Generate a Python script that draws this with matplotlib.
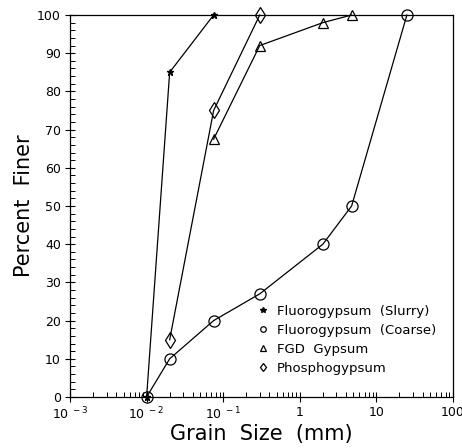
import matplotlib
matplotlib.use("Agg")
import matplotlib.pyplot as plt
from matplotlib.lines import Line2D
from matplotlib.ticker import LogLocator, NullFormatter, MultipleLocator

# Data (grain size in mm, percent finer)
slurry_x = [0.01, 0.02, 0.075]
slurry_y = [0, 85, 100]
coarse_x = [0.01, 0.02, 0.075, 0.3, 2.0, 4.75, 25]
coarse_y = [0, 10, 20, 27, 40, 50, 100]
fgd_x = [0.075, 0.3, 2.0, 4.75]
fgd_y = [67.5, 92, 98, 100]
phos_x = [0.02, 0.075, 0.3]
phos_y = [15, 75, 100]

xtick_vals = [1e-3, 1e-2, 1e-1, 1, 10, 100]
xtick_labels = [r"10$^{\ -3}$", r"10$^{\ -2}$", r"10$^{\ -1}$", "1", "10", "100"]
ytick_vals = list(range(0, 101, 10))

legend_labels = ["Fluorogypsum  (Slurry)", "Fluorogypsum  (Coarse)",
                 "FGD  Gypsum", "Phosphogypsum"]

plt.rcParams['font.family'] = ['DejaVu Sans']

fig = plt.figure(figsize=(4.62, 4.48), dpi=100)
ax = fig.add_axes([70/462, 1-397/448, (453-70)/462, (397-15)/448])

lw = 0.9
ax.plot(slurry_x, slurry_y, '-', color='black', lw=lw, marker='*', ms=5,
        mfc='black', mec='black', clip_on=False)
ax.plot(coarse_x, coarse_y, '-', color='black', lw=lw, marker='o', ms=8,
        mfc='none', mec='black', mew=0.9, clip_on=False)
ax.plot(fgd_x, fgd_y, '-', color='black', lw=lw, marker='^', ms=7,
        mfc='none', mec='black', mew=0.9, clip_on=False)
ax.plot(phos_x, phos_y, '-', color='black', lw=lw, marker='d', ms=8,
        mfc='none', mec='black', mew=0.9, clip_on=False)

ax.set_xscale('log')
ax.set_xlim(1e-3, 100)
ax.set_ylim(0, 100)

ax.set_xticks(xtick_vals)
ax.set_xticklabels(xtick_labels, fontsize=9)
ax.xaxis.set_minor_locator(LogLocator(base=10, subs=range(2, 10), numticks=50))
ax.xaxis.set_minor_formatter(NullFormatter())
ax.set_yticks(ytick_vals)
ax.set_yticklabels([str(v) for v in ytick_vals], fontsize=9)
ax.yaxis.set_minor_locator(MultipleLocator(2))

ax.tick_params(which='major', direction='inout', length=7, width=0.8, pad=3)
ax.tick_params(which='minor', direction='in', length=3.5, width=0.7)
ax.tick_params(top=False, right=False, which='both')

for s in ax.spines.values():
    s.set_linewidth(0.9)

ax.set_xlabel("Grain  Size  (mm)", fontsize=15, labelpad=1)
ax.set_ylabel("Percent  Finer", fontsize=15, labelpad=0)
ax.yaxis.set_label_coords(-0.094, 0.5)

handles = [
    Line2D([], [], ls='none', marker='*', ms=4, mfc='black', mec='black'),
    Line2D([], [], ls='none', marker='o', ms=4, mfc='none', mec='black', mew=0.9),
    Line2D([], [], ls='none', marker='^', ms=4, mfc='none', mec='black', mew=0.9),
    Line2D([], [], ls='none', marker='d', ms=4.5, mfc='none', mec='black', mew=0.9),
]
ax.legend(handles, legend_labels, loc='upper left',
          bbox_to_anchor=(256/462, 1-305/448), bbox_transform=fig.transFigure,
          frameon=False, fontsize=9.5, handlelength=1.0, handletextpad=0.6,
          labelspacing=0.45, borderaxespad=0, borderpad=0)

fig.savefig("out.png", dpi=100)
